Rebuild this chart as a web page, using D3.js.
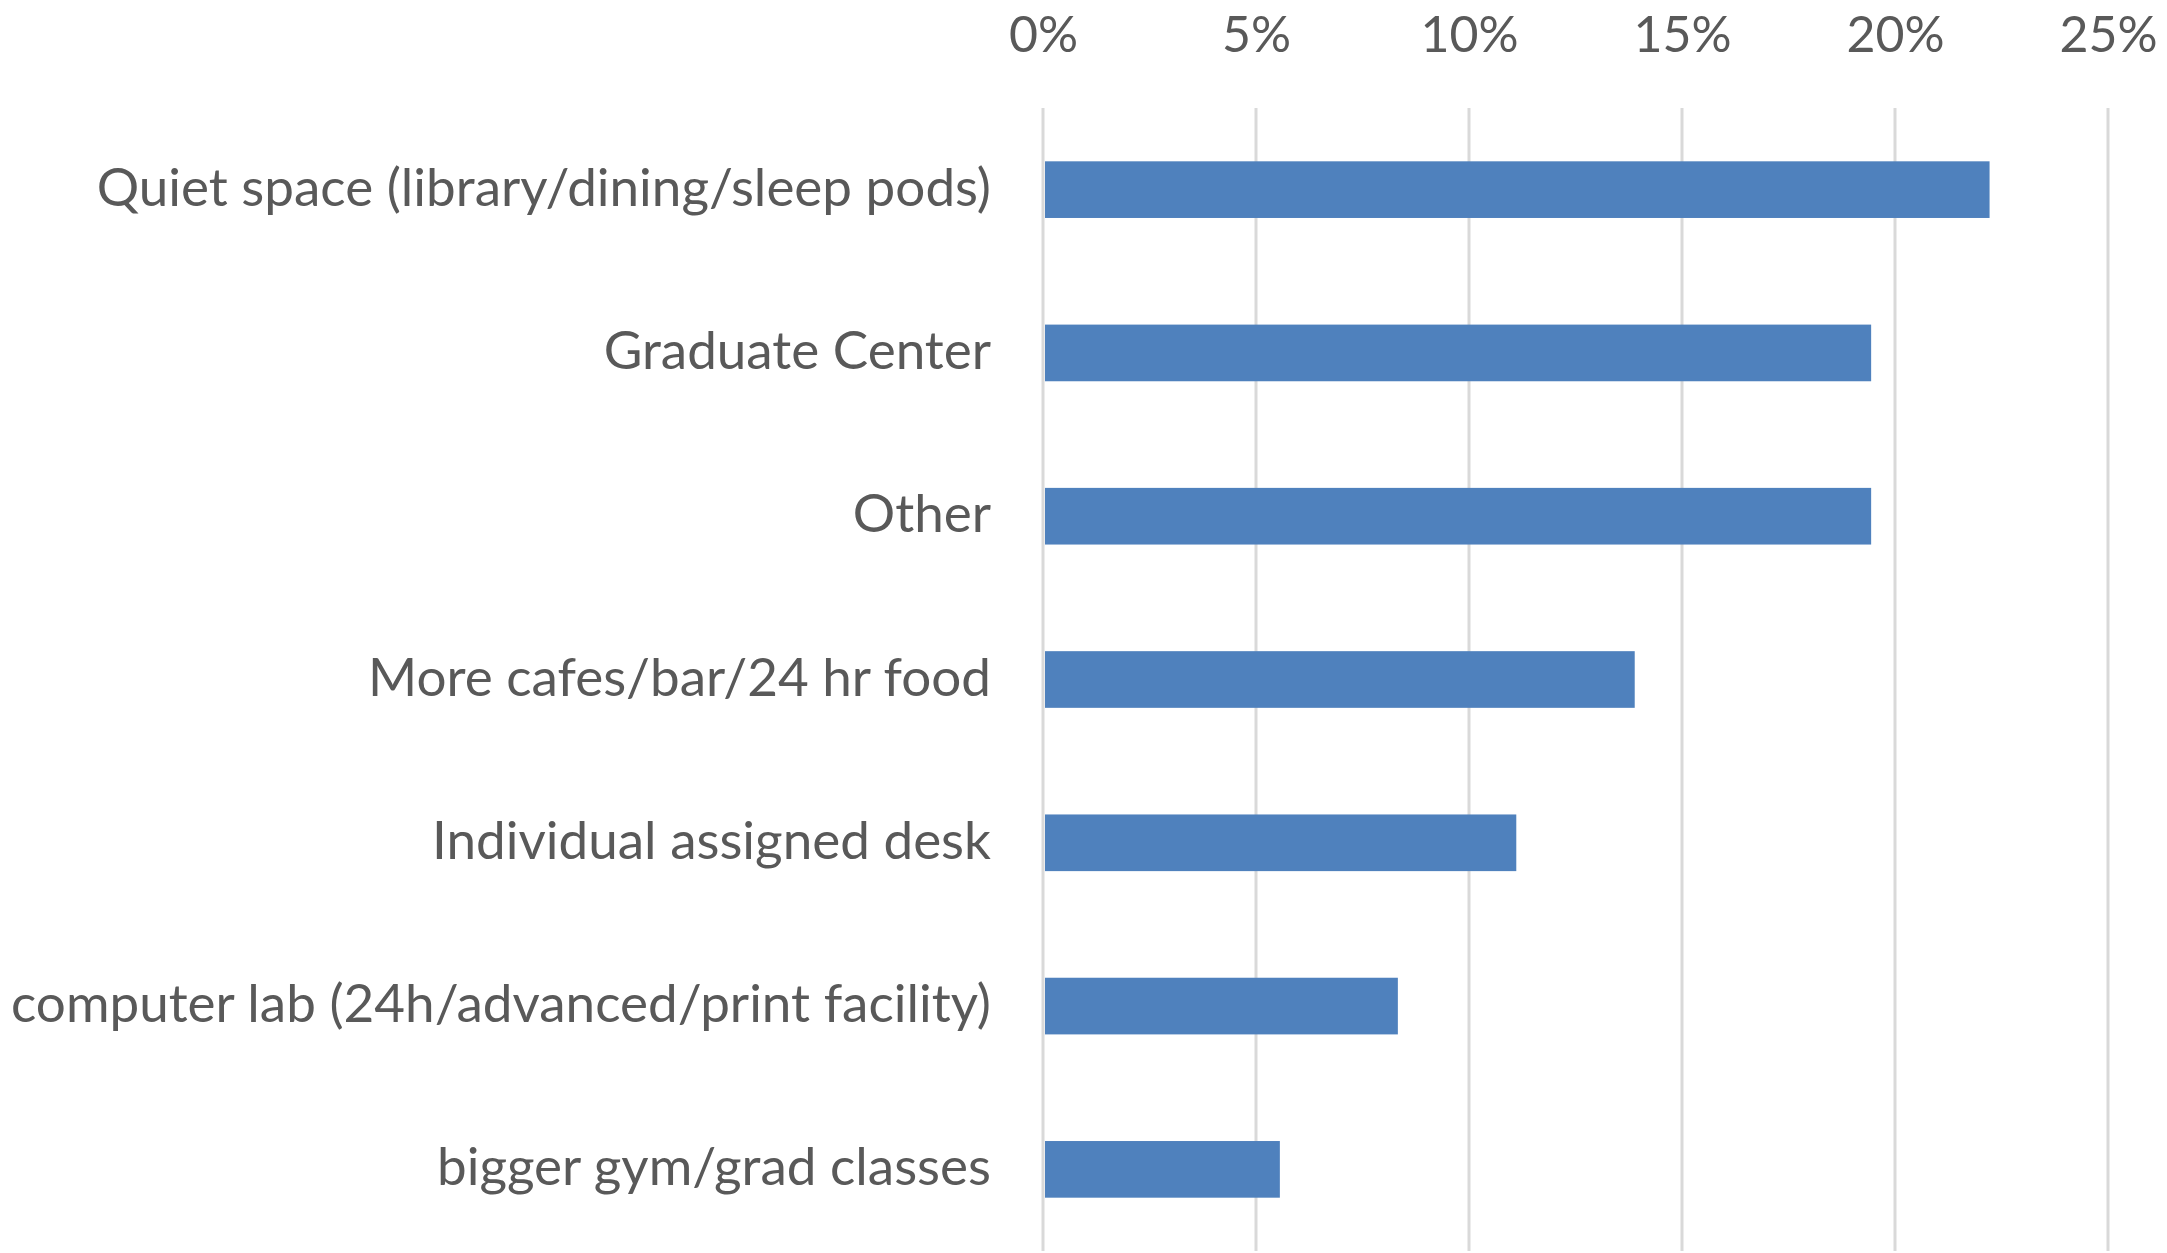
<!DOCTYPE html>
<html>
<head>
<meta charset="utf-8">
<script src="https://cdn.jsdelivr.net/npm/d3@7"></script>
<style>
  body { margin: 0; background: #fff; }
  text { font-family: Lato, "Open Sans", sans-serif; fill: #595959; }
</style>
</head>
<body>
<script>
// survey answers (share of respondents)
var categories = [
  "Quiet space (library/dining/sleep pods)",
  "Graduate Center",
  "Other",
  "More cafes/bar/24 hr food",
  "Individual assigned desk",
  "computer lab (24h/advanced/print facility)",
  "bigger gym/grad classes"
];
var values = [0.2222, 0.1944, 0.1944, 0.1389, 0.1111, 0.0833, 0.0556];
var ticks = [0, 0.05, 0.10, 0.15, 0.20, 0.25];

var width = 2167, height = 1253;
var margin = { top: 108, right: 59, bottom: 2, left: 1043 };

var svg = d3.select("body").append("svg")
  .attr("width", width)
  .attr("height", height);

var x = d3.scaleLinear()
  .domain([0, 0.25])
  .range([margin.left, width - margin.right]);

var y = d3.scaleBand()
  .domain(categories)
  .range([margin.top, height - margin.bottom])
  .paddingInner(0.653)
  .paddingOuter(0.3265);

// gridlines
svg.append("g")
  .selectAll("line")
  .data(ticks)
  .enter()
  .append("line")
  .attr("x1", (d) => x(d))
  .attr("x2", (d) => x(d))
  .attr("y1", margin.top)
  .attr("y2", height - margin.bottom)
  .attr("stroke", "#d9d9d9")
  .attr("stroke-width", 3);

// bars
svg.append("g")
  .selectAll("rect")
  .data(values)
  .enter()
  .append("rect")
  .attr("x", x(0) + 2)
  .attr("y", (_, i) => y(categories[i]))
  .attr("width", (d) => x(d) - x(0) - 2)
  .attr("height", y.bandwidth())
  .attr("fill", "#4f81bd");

// top axis
var axis = svg.append("g")
  .attr("transform", "translate(0,52)")
  .call(d3.axisTop(x).tickValues(ticks).tickSize(0).tickPadding(0).tickFormat(d3.format(".0%")));
axis.select(".domain").remove();
axis.selectAll("text")
  .style("font-size", "50px")
  .attr("fill", "#595959")
  .attr("dy", 0);

// category labels
svg.append("g")
  .selectAll("text")
  .data(categories)
  .enter()
  .append("text")
  .attr("x", 991)
  .attr("y", (d) => y(d) + y.bandwidth() / 2 + 16)
  .attr("text-anchor", "end")
  .style("font-size", "53px")
  .text((d) => d);
</script>
</body>
</html>
